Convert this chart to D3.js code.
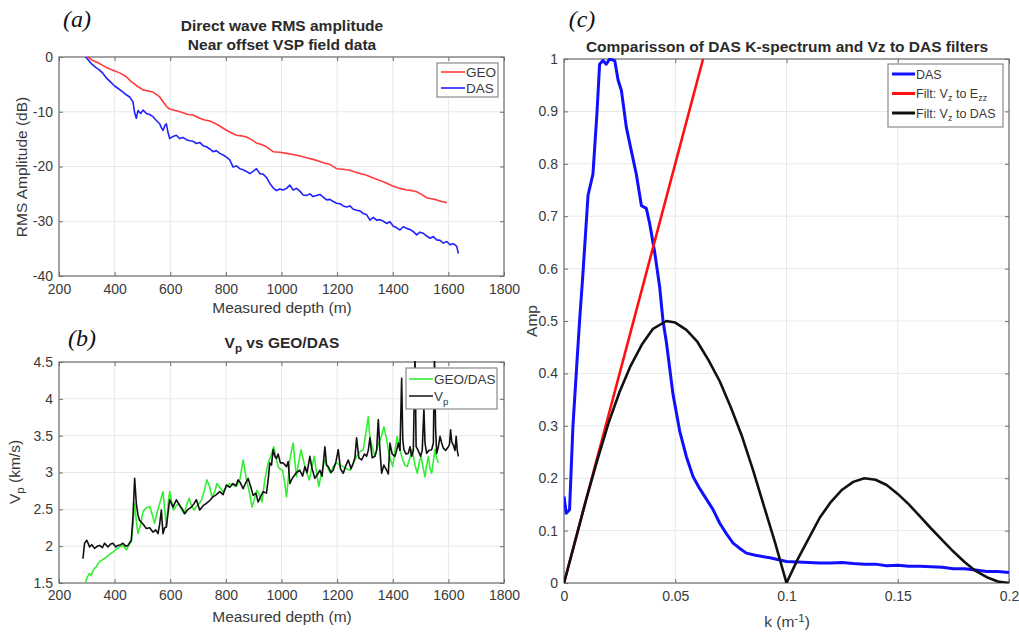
<!DOCTYPE html>
<html><head><meta charset="utf-8">
<script src="https://cdn.jsdelivr.net/npm/d3@7"></script>
<style>
body{margin:0;background:#fff;}
svg{display:block;font-family:"Liberation Sans",Arial,sans-serif;}
</style></head>
<body>
<svg id="chart" width="1019" height="634"></svg>
<script>
// ---------- Panel (a) data ----------
const aGeoDepth = [304,320,346,370,394,418,442,460,478,502,520,538,562,586,598,622,646,664,682,706,724,742,760,778,796,814,838,856,874,892,910,928,946,970,994,1018,1042,1066,1090,1114,1138,1156,1174,1198,1222,1246,1270,1306,1330,1366,1384,1402,1426,1450,1468,1486,1504,1522,1540,1558,1576,1594];
const aGeo      = [0,-0.6,-1.2,-1.9,-2.4,-2.9,-3.6,-4.5,-5.2,-6.0,-6.2,-6.4,-7.3,-9.0,-9.5,-9.8,-10.2,-10.5,-10.6,-11.2,-11.5,-11.7,-12.1,-12.6,-13.2,-13.7,-14.3,-14.4,-14.6,-15.1,-15.7,-16.0,-16.4,-17.3,-17.4,-17.6,-17.8,-18.1,-18.4,-18.7,-19.1,-19.4,-19.6,-20.4,-20.5,-20.7,-21.1,-21.6,-22.1,-22.8,-23.2,-23.6,-24.0,-24.3,-24.4,-24.6,-25.1,-25.7,-25.9,-26.1,-26.4,-26.6];
const aDasDepth = [296,316,332,346,358,370,386,400,414,430,442,454,466,472,478,484,494,502,514,526,538,550,562,568,574,580,586,592,598,610,622,634,646,658,670,682,694,706,718,730,742,754,766,778,790,802,814,826,838,850,862,874,886,898,910,922,934,946,958,970,982,994,1006,1018,1030,1042,1054,1066,1078,1090,1102,1114,1126,1138,1150,1162,1174,1186,1198,1210,1222,1234,1246,1258,1270,1282,1294,1306,1318,1330,1342,1354,1366,1378,1390,1402,1414,1426,1438,1450,1462,1474,1486,1498,1510,1522,1534,1546,1558,1570,1582,1594,1606,1616,1624,1630,1636];
const aDas      = [0,-1.2,-1.9,-2.4,-3.0,-3.8,-4.6,-5.3,-5.8,-6.4,-6.9,-7.3,-8.2,-10.2,-11.2,-9.8,-10.3,-9.7,-10.3,-10.5,-10.9,-11.6,-12.2,-12.9,-13.4,-12.6,-12.2,-13.8,-14.9,-14.5,-14.3,-14.9,-14.7,-15.1,-15.3,-15.4,-15.8,-15.6,-16.2,-16.4,-16.8,-17.3,-17.1,-17.6,-17.9,-18.3,-18.8,-20.1,-19.9,-20.4,-20.6,-20.9,-21.3,-20.9,-20.4,-21.3,-21.4,-22.0,-23.1,-23.9,-24.4,-24.1,-24.3,-24.0,-23.4,-24.3,-24.0,-24.5,-25.2,-25.3,-25.0,-25.5,-25.3,-25.1,-25.6,-26.1,-26.0,-26.4,-26.7,-26.8,-27.2,-27.4,-27.2,-27.8,-28.0,-28.1,-28.6,-28.8,-29.8,-29.3,-29.8,-29.7,-30.0,-30.4,-30.1,-30.9,-31.2,-31.6,-31.0,-31.3,-31.5,-31.9,-32.5,-32.0,-32.2,-32.7,-33.1,-32.8,-33.4,-33.5,-34.0,-33.7,-34.3,-34.1,-34.3,-34.6,-35.9];

// ---------- Panel (b) data ----------
const bVpDepth = [286,292,300,310,318,328,338,346,356,364,376,386,394,404,412,422,430,440,448,460,466,472,478,484,490,502,514,526,538,548,556,562,568,574,580,586,592,598,604,610,622,634,644,652,664,676,686,694,706,718,730,742,754,766,778,790,802,814,826,836,844,852,862,870,880,890,898,908,916,926,934,946,952,958,964,970,976,982,988,996,1006,1018,1024,1030,1036,1042,1054,1066,1076,1084,1092,1102,1110,1120,1130,1138,1146,1156,1162,1168,1178,1186,1196,1204,1212,1222,1232,1240,1250,1258,1264,1270,1278,1288,1298,1306,1312,1318,1326,1336,1342,1348,1354,1360,1368,1378,1384,1390,1398,1408,1414,1420,1426,1432,1436,1440,1448,1456,1462,1468,1474,1480,1484,1490,1500,1506,1512,1516,1522,1530,1540,1546,1550,1554,1558,1564,1570,1576,1582,1590,1600,1604,1608,1612,1618,1624,1628,1632,1636];
const bVp      = [1.83,2.04,2.08,1.99,2.02,1.97,2.00,2.01,1.98,2.04,1.99,2.03,2.04,1.99,2.01,2.02,2.04,2.00,2.01,2.08,2.40,2.92,2.58,2.42,2.35,2.30,2.24,2.25,2.19,2.22,2.17,2.30,2.49,2.17,2.25,2.26,2.45,2.63,2.58,2.53,2.63,2.55,2.50,2.44,2.50,2.53,2.58,2.63,2.49,2.55,2.58,2.62,2.67,2.70,2.74,2.70,2.83,2.80,2.85,2.82,2.90,2.86,2.78,2.85,2.92,2.80,2.69,2.72,2.60,2.68,2.74,2.72,2.90,3.13,3.10,3.31,3.22,3.19,3.25,3.13,3.13,3.08,3.15,2.85,2.90,2.94,3.00,3.03,2.95,3.08,3.00,3.22,3.05,2.92,2.98,3.03,2.95,3.35,3.10,3.08,3.00,3.03,3.15,3.31,3.05,2.99,3.10,3.17,3.05,3.13,3.20,3.47,3.20,3.17,3.25,3.22,3.30,3.47,3.20,3.22,3.30,3.72,3.30,2.99,3.10,3.03,2.98,3.40,3.25,3.22,3.30,3.40,3.30,4.28,3.45,3.31,3.25,3.26,3.35,3.22,3.30,4.60,3.35,3.31,3.22,3.30,3.86,3.40,3.26,3.30,3.31,3.40,4.60,3.60,3.26,3.35,3.49,3.40,3.33,3.30,3.35,3.38,3.58,3.42,3.37,3.30,3.49,3.30,3.22];
const bGdDepth = [295,302,310,316,322,328,334,340,346,358,370,382,394,406,418,430,442,452,460,466,472,478,484,494,502,514,526,536,544,552,562,568,574,580,586,592,598,604,612,622,632,640,650,658,668,676,686,694,704,712,722,732,742,750,760,768,778,790,802,814,826,838,850,862,874,880,886,894,904,912,922,930,940,952,964,972,980,988,994,1004,1012,1018,1024,1030,1036,1042,1048,1054,1060,1070,1078,1084,1090,1100,1108,1118,1126,1134,1144,1156,1168,1176,1186,1198,1210,1222,1234,1246,1258,1270,1282,1294,1306,1312,1316,1322,1330,1336,1342,1350,1360,1368,1378,1384,1390,1400,1408,1416,1426,1436,1444,1452,1462,1470,1480,1488,1496,1502,1510,1516,1522,1528,1534,1540,1546,1552,1558,1564,1570];
const bGd      = [1.50,1.58,1.63,1.60,1.67,1.70,1.72,1.76,1.79,1.82,1.85,1.89,1.92,1.96,1.99,2.01,1.95,2.02,2.06,2.30,2.58,2.35,2.17,2.30,2.47,2.52,2.54,2.42,2.31,2.45,2.58,2.66,2.74,2.50,2.26,2.55,2.74,2.62,2.49,2.55,2.58,2.50,2.44,2.55,2.65,2.55,2.49,2.54,2.58,2.62,2.75,2.90,2.80,2.67,2.74,2.85,2.80,2.74,2.80,2.85,2.83,2.81,2.90,3.17,2.90,2.81,2.70,2.53,2.66,2.76,2.68,2.60,2.90,3.13,3.25,3.35,3.20,3.08,3.05,3.03,2.85,2.67,2.90,3.17,3.30,3.40,3.15,2.94,3.10,3.31,3.18,3.08,3.00,2.90,3.05,3.22,3.00,2.81,3.00,3.17,3.05,2.99,3.08,3.13,3.10,3.08,3.05,3.03,3.12,3.22,3.28,3.31,3.60,3.76,3.55,3.40,3.30,3.22,3.30,3.40,3.50,3.62,3.45,3.31,3.20,3.08,3.30,3.49,3.30,3.17,3.10,3.08,3.20,3.31,3.10,2.99,3.15,3.22,3.05,2.94,3.10,3.22,3.05,2.99,3.15,3.31,3.20,3.13];

// ---------- Panel (c) data ----------
const cDasK   = [0,0.001,0.0025,0.004,0.0055,0.007,0.0085,0.0108,0.013,0.0148,0.016,0.0175,0.019,0.0205,0.0228,0.0243,0.0258,0.028,0.030,0.0325,0.0348,0.037,0.0385,0.0408,0.043,0.0445,0.046,0.049,0.052,0.055,0.058,0.061,0.064,0.067,0.070,0.073,0.076,0.079,0.082,0.086,0.0925,0.096,0.1,0.105,0.11,0.115,0.12,0.125,0.13,0.135,0.14,0.145,0.15,0.155,0.16,0.165,0.17,0.175,0.18,0.185,0.19,0.195,0.2];
const cDas    = [0.165,0.133,0.14,0.298,0.40,0.50,0.59,0.74,0.78,0.896,0.99,0.997,0.99,1.0,0.997,0.96,0.94,0.87,0.83,0.78,0.72,0.715,0.686,0.63,0.565,0.50,0.46,0.36,0.29,0.241,0.203,0.18,0.160,0.14,0.114,0.094,0.076,0.066,0.057,0.053,0.048,0.045,0.041,0.040,0.039,0.038,0.038,0.039,0.037,0.036,0.036,0.033,0.034,0.032,0.032,0.031,0.030,0.027,0.027,0.025,0.022,0.022,0.020];
const cVzEzzK = [0,0.0625];
const cVzEzz  = [0,1];
const cVzDasK = [0,0.005,0.01,0.015,0.02,0.025,0.03,0.035,0.04,0.046,0.05,0.055,0.06,0.065,0.07,0.075,0.08,0.085,0.09,0.095,0.1,0.105,0.11,0.115,0.12,0.125,0.13,0.135,0.14,0.145,0.15,0.155,0.16,0.165,0.17,0.175,0.18,0.185,0.19,0.195,0.2];
const cVzDas  = [0,0.08,0.16,0.235,0.305,0.365,0.415,0.455,0.485,0.50,0.497,0.483,0.46,0.425,0.385,0.335,0.28,0.215,0.145,0.075,0.0,0.045,0.085,0.125,0.155,0.178,0.193,0.20,0.197,0.187,0.17,0.15,0.127,0.104,0.082,0.06,0.04,0.023,0.011,0.003,0];

const xTicksAB = [200,400,600,800,1000,1200,1400,1600,1800];
const yTicksA  = [-40,-30,-20,-10,0];
const yTicksB  = [1.5,2,2.5,3,3.5,4,4.5];
const xTicksC  = [0,0.05,0.1,0.15,0.2];
const yTicksC  = [0,0.1,0.2,0.3,0.4,0.5,0.6,0.7,0.8,0.9,1];

// ---------- drawing ----------
const svg = d3.select("#chart");
const AX = "#6e6e6e", TXT = "#3a3a3a", GRID = "#e8e8e8";
const TICKFS = 14, LABFS = 15.5, TITFS = 15.5;
let clipId = 0;

function panel(o){
  const x = d3.scaleLinear().domain(o.xd).range([o.l, o.r]);
  const y = d3.scaleLinear().domain(o.yd).range([o.b, o.t]);
  const g = svg.append("g");
  const W = o.r - o.l, H = o.b - o.t;
  g.append("g").selectAll("line").data(o.xt).join("line")
    .attr("x1", d=>x(d)).attr("x2", d=>x(d)).attr("y1", o.t).attr("y2", o.b)
    .attr("stroke", GRID).attr("stroke-width", 1);
  g.append("g").selectAll("line").data(o.yt).join("line")
    .attr("y1", d=>y(d)).attr("y2", d=>y(d)).attr("x1", o.l).attr("x2", o.r)
    .attr("stroke", GRID).attr("stroke-width", 1);
  const xa = g.append("g").attr("transform", `translate(0,${o.b})`)
    .call(d3.axisBottom(x).tickValues(o.xt).tickFormat(d=>d).tickSizeInner(-4).tickSizeOuter(0).tickPadding(o.px));
  const ya = g.append("g").attr("transform", `translate(${o.l},0)`)
    .call(d3.axisLeft(y).tickValues(o.yt).tickFormat(d=>d).tickSizeInner(-4).tickSizeOuter(0).tickPadding(6));
  const xt2 = g.append("g").attr("transform", `translate(0,${o.t})`)
    .call(d3.axisTop(x).tickValues(o.xt).tickFormat("").tickSizeInner(-4).tickSizeOuter(0));
  const yt2 = g.append("g").attr("transform", `translate(${o.r},0)`)
    .call(d3.axisRight(y).tickValues(o.yt).tickFormat("").tickSizeInner(-4).tickSizeOuter(0));
  [xa,ya,xt2,yt2].forEach(a=>{
    a.select(".domain").remove();
    a.selectAll("line").attr("stroke", AX);
    a.selectAll("text").attr("fill", TXT).attr("font-size", TICKFS)
      .attr("font-family", "'Liberation Sans',Arial,sans-serif");
  });
  g.append("rect").attr("x", o.l).attr("y", o.t).attr("width", W).attr("height", H)
    .attr("fill", "none").attr("stroke", AX).attr("stroke-width", 1.2);
  const id = "clip" + (clipId++);
  svg.append("clipPath").attr("id", id).append("rect")
    .attr("x", o.l).attr("y", o.t - 1).attr("width", W).attr("height", H + 1);
  const plot = g.append("g").attr("clip-path", `url(#${id})`);
  o.series.forEach(s=>{
    const pts = s.xs.map((v,i)=>[v, s.ys[i]]);
    plot.append("path").datum(pts)
      .attr("d", d3.line().x(d=>x(d[0])).y(d=>y(d[1])))
      .attr("fill", "none").attr("stroke", s.color).attr("stroke-width", s.w)
      .attr("stroke-linejoin", "round");
  });
  return {x, y, g};
}

function legend(box, items, fs){
  const g = svg.append("g");
  g.append("rect").attr("x", box.x).attr("y", box.y).attr("width", box.w).attr("height", box.h)
    .attr("fill", "#fff").attr("stroke", "#8a8a8a").attr("stroke-width", 1.2);
  items.forEach((it,i)=>{
    const yy = box.y0 + i*box.dy;
    g.append("line").attr("x1", box.lx1).attr("x2", box.lx2).attr("y1", yy).attr("y2", yy)
      .attr("stroke", it.color).attr("stroke-width", it.w);
    const t = g.append("text").attr("x", box.lx2 + 1).attr("y", yy + fs*0.36)
      .attr("font-size", fs).attr("fill", TXT);
    it.parts.forEach(p=>{
      const ts = t.append("tspan").text(p.t);
      if (p.sub) ts.attr("font-size", fs*0.72).attr("baseline-shift", "-35%");
    });
  });
}

function label(x, y, parts, opts){
  const t = svg.append("text").attr("x", x).attr("y", y).attr("text-anchor", "middle")
    .attr("font-size", opts.fs).attr("fill", opts.fill || TXT)
    .attr("font-weight", opts.bold ? "bold" : "normal");
  if (opts.rot) t.attr("transform", `rotate(-90,${x},${y})`);
  if (opts.family) t.attr("font-family", opts.family);
  if (opts.italic) t.attr("font-style", "italic");
  parts.forEach(p=>{
    const ts = t.append("tspan").text(p.t);
    if (p.sub) ts.attr("font-size", opts.fs*0.75).attr("baseline-shift", "-35%");
    if (p.sup) ts.attr("font-size", opts.fs*0.75).attr("baseline-shift", "45%");
  });
  return t;
}
const SERIF = "'Liberation Serif','Times New Roman',serif";

// Panel (a)
panel({l:59, r:504, t:57, b:276, px:8, xd:[200,1800], yd:[-40,0], xt:xTicksAB, yt:yTicksA,
  series:[
    {xs:aGeoDepth, ys:aGeo, color:"#ff3b3b", w:1.6},
    {xs:aDasDepth, ys:aDas, color:"#2222ff", w:1.6}
  ]});
legend({x:437, y:63, w:61, h:34, y0:72, dy:16, lx1:441, lx2:465},
  [{color:"#ff3b3b", w:1.6, parts:[{t:"GEO"}]}, {color:"#2222ff", w:1.6, parts:[{t:"DAS"}]}], 13.5);
label(282, 30.5, [{t:"Direct wave RMS amplitude"}], {fs:TITFS, bold:true, fill:"#2a2a2a"});
label(282, 49.5, [{t:"Near offset VSP field data"}], {fs:TITFS, bold:true, fill:"#2a2a2a"});
label(282, 313, [{t:"Measured depth (m)"}], {fs:LABFS});
label(27, 167, [{t:"RMS Amplitude (dB)"}], {fs:LABFS, rot:true});
label(77, 27, [{t:"(a)"}], {fs:24, italic:true, family:SERIF, fill:"#111"});

// Panel (b)
panel({l:59, r:504, t:362, b:583, px:7, xd:[200,1800], yd:[1.5,4.5], xt:xTicksAB, yt:yTicksB,
  series:[
    {xs:bGdDepth, ys:bGd, color:"#33ee33", w:1.6},
    {xs:bVpDepth, ys:bVp, color:"#111111", w:1.6}
  ]});
legend({x:406, y:368, w:91, h:41, y0:379, dy:17, lx1:409, lx2:433},
  [{color:"#33ee33", w:1.6, parts:[{t:"GEO/DAS"}]}, {color:"#222", w:1.6, parts:[{t:"V"},{t:"p", sub:true}]}], 13.5);
label(282, 348, [{t:"V"},{t:"p", sub:true},{t:" vs GEO/DAS"}], {fs:TITFS, bold:true, fill:"#2a2a2a"});
label(282, 621.5, [{t:"Measured depth (m)"}], {fs:LABFS});
label(20, 472, [{t:"V"},{t:"p", sub:true},{t:" (km/s)"}], {fs:LABFS, rot:true});
label(82, 346, [{t:"(b)"}], {fs:24, italic:true, family:SERIF, fill:"#111"});

// Panel (c)
panel({l:564, r:1009, t:59, b:583, px:8, xd:[0,0.2], yd:[0,1], xt:xTicksC, yt:yTicksC,
  series:[
    {xs:cDasK, ys:cDas, color:"#1010ff", w:3},
    {xs:cVzEzzK, ys:cVzEzz, color:"#ff1010", w:2.6},
    {xs:cVzDasK, ys:cVzDas, color:"#111111", w:2.6}
  ]});
legend({x:888, y:64, w:115, h:63, y0:74, dy:19.5, lx1:892, lx2:915},
  [{color:"#1010ff", w:3, parts:[{t:"DAS"}]},
   {color:"#ff1010", w:3, parts:[{t:"Filt: V"},{t:"z", sub:true},{t:" to E"},{t:"zz", sub:true}]},
   {color:"#111", w:3, parts:[{t:"Filt: V"},{t:"z", sub:true},{t:" to DAS"}]}], 12.5);
label(787, 52, [{t:"Comparisson of DAS K-spectrum and Vz to DAS filters"}], {fs:TITFS, bold:true, fill:"#2a2a2a"});
label(787, 627, [{t:"k (m"},{t:"-1", sup:true},{t:")"}], {fs:LABFS});
label(537, 321, [{t:"Amp"}], {fs:LABFS, rot:true});
label(582, 27, [{t:"(c)"}], {fs:24, italic:true, family:SERIF, fill:"#111"});
</script>
</body></html>
